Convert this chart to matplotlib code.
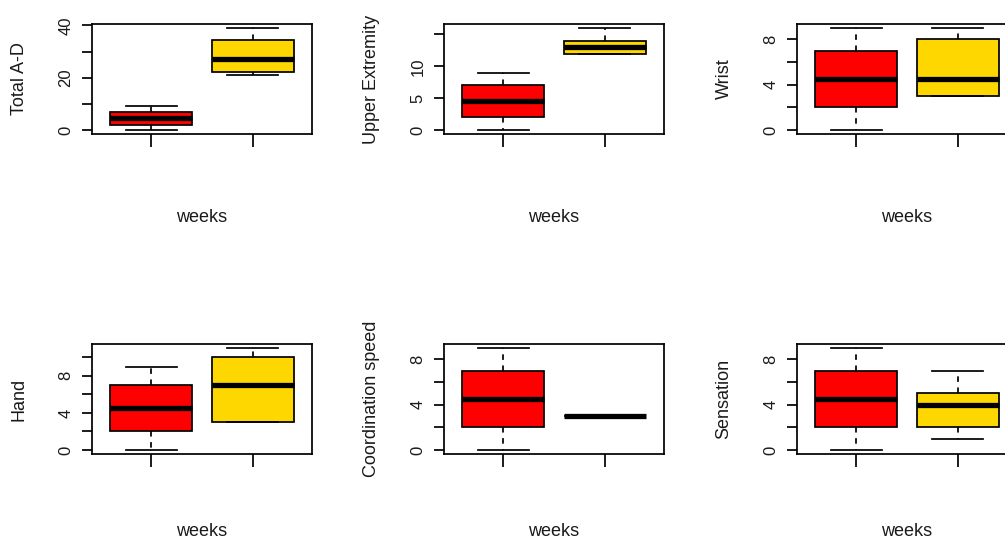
"""
Six box plots (2x3 grid) comparing two groups per outcome, R base-graphics look.
"""

import matplotlib
matplotlib.use('Agg')
import matplotlib.pyplot as plt

plt.rcParams['font.family'] = ['Liberation Sans', 'DejaVu Sans']

# Data
# ----------------------------------------------------------------------------

outcomes = ['Total A-D', 'Upper Extremity', 'Wrist', 'Hand',
            'Coordination speed', 'Sensation']
xlabel = 'weeks'

# first group (red): five-number summaries per outcome
g1_min = [0, 0, 0, 0, 0, 0]
g1_q1 = [2, 2, 2, 2, 2, 2]
g1_med = [4.5, 4.5, 4.5, 4.5, 4.5, 4.5]
g1_q3 = [7, 7, 7, 7, 7, 7]
g1_max = [9, 9, 9, 9, 9, 9]

# second group (gold)
g2_min = [21, 12, 3, 3, 3, 1]
g2_q1 = [22, 12, 3, 3, 3, 2]
g2_med = [27, 13, 4.5, 7, 3, 4]
g2_q3 = [34.5, 14, 8, 10, 3, 5]
g2_max = [39, 16, 9, 11, 3, 7]

yticks = [
    [0, 10, 20, 30, 40],
    [0, 5, 10, 15],
    [0, 2, 4, 6, 8],
    [0, 2, 4, 6, 8, 10],
    [0, 2, 4, 6, 8],
    [0, 2, 4, 6, 8],
]
ytick_labels = [
    ['0', '', '20', '', '40'],
    ['0', '5', '10', ''],
    ['0', '', '4', '', '8'],
    ['0', '', '4', '', '8', ''],
    ['0', '', '4', '', '8'],
    ['0', '', '4', '', '8'],
]

colors = ['#FF0000', '#FFD700']

# Plot
# ----------------------------------------------------------------------------

W, H = 1005, 541
fig = plt.figure(figsize=(W / 100, H / 100), dpi=100)

col_left = [92, 444, 797]
row_top = [24, 344]
xlab_off = [83, 78]   # px below each row's axes
aw, ah = 220, 110
lw = 1.25


def stats(i, mn, q1, med, q3, mx):
    return {'whislo': mn[i], 'q1': q1[i], 'med': med[i], 'q3': q3[i],
            'whishi': mx[i], 'fliers': []}


for i, name in enumerate(outcomes):
    r, c = divmod(i, 3)
    x0, y0 = col_left[c], row_top[r]
    ax = fig.add_axes([x0 / W, 1 - (y0 + ah) / H, aw / W, ah / H])

    bx = [stats(i, g1_min, g1_q1, g1_med, g1_q3, g1_max),
          stats(i, g2_min, g2_q1, g2_med, g2_q3, g2_max)]
    res = ax.bxp(bx, positions=[1, 2], widths=0.8, capwidths=0.5,
                 patch_artist=True, showfliers=False,
                 boxprops=dict(edgecolor='black', linewidth=lw),
                 whiskerprops=dict(color='black', linewidth=lw,
                                   linestyle=(0, (3.2, 3.2))),
                 capprops=dict(color='black', linewidth=lw),
                 medianprops=dict(color='black', linewidth=3.8,
                                  solid_capstyle='butt'))
    for patch, col in zip(res['boxes'], colors):
        patch.set_facecolor(col)

    lo = min(g1_min[i], g2_min[i])
    hi = max(g1_max[i], g2_max[i])
    pad = 0.04 * (hi - lo)
    ax.set_ylim(lo - pad, hi + pad)
    ax.set_xlim(0.42, 2.58)

    ax.set_xticks([1, 2])
    ax.set_xticklabels(['', ''])
    ax.set_yticks(yticks[i])
    ax.set_yticklabels(ytick_labels[i], rotation=90, va='center')

    ax.tick_params(axis='y', length=7.5, width=lw, pad=6, labelsize=12,
                   labelcolor='#1a1a1a')
    ax.tick_params(axis='x', length=9.5, width=lw)
    for sp in ax.spines.values():
        sp.set_linewidth(lw)

    ax.set_ylabel(name, fontsize=13, va='center', color='#1a1a1a')
    ax.yaxis.set_label_coords(-73 / aw, 0.5)
    ax.set_xlabel(xlabel, fontsize=13, va='center', color='#1a1a1a')
    ax.xaxis.set_label_coords(0.5, -xlab_off[r] / ah)

fig.savefig('out.png', dpi=100)
